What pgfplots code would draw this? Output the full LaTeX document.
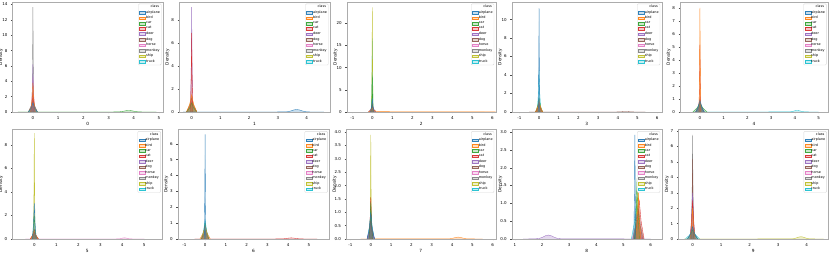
\documentclass[border=0pt]{standalone}
\usepackage{fontspec}
\setmainfont{DejaVu Sans}
\usepackage{pgfplots}
\pgfplotsset{compat=1.18}
\definecolor{C0}{HTML}{1F77B4}
\definecolor{C1}{HTML}{FF7F0E}
\definecolor{C2}{HTML}{2CA02C}
\definecolor{C3}{HTML}{D62728}
\definecolor{C4}{HTML}{9467BD}
\definecolor{C5}{HTML}{8C564B}
\definecolor{C6}{HTML}{E377C2}
\definecolor{C7}{HTML}{7F7F7F}
\definecolor{C8}{HTML}{BCBD22}
\definecolor{C9}{HTML}{17BECF}
\pgfplotsset{
  c0/.style={draw=C0, fill=C0, fill opacity=0.25, draw opacity=0.9, line width=0.35pt},
  c1/.style={draw=C1, fill=C1, fill opacity=0.25, draw opacity=0.9, line width=0.35pt},
  c2/.style={draw=C2, fill=C2, fill opacity=0.25, draw opacity=0.9, line width=0.35pt},
  c3/.style={draw=C3, fill=C3, fill opacity=0.25, draw opacity=0.9, line width=0.35pt},
  c4/.style={draw=C4, fill=C4, fill opacity=0.25, draw opacity=0.9, line width=0.35pt},
  c5/.style={draw=C5, fill=C5, fill opacity=0.25, draw opacity=0.9, line width=0.35pt},
  c6/.style={draw=C6, fill=C6, fill opacity=0.25, draw opacity=0.9, line width=0.35pt},
  c7/.style={draw=C7, fill=C7, fill opacity=0.25, draw opacity=0.9, line width=0.35pt},
  c8/.style={draw=C8, fill=C8, fill opacity=0.25, draw opacity=0.9, line width=0.35pt},
  c9/.style={draw=C9, fill=C9, fill opacity=0.25, draw opacity=0.9, line width=0.35pt},
  k0/.style={c0, forget plot}, k1/.style={c1, forget plot}, k2/.style={c2, forget plot},
  k3/.style={c3, forget plot}, k4/.style={c4, forget plot}, k5/.style={c5, forget plot},
  k6/.style={c6, forget plot}, k7/.style={c7, forget plot}, k8/.style={c8, forget plot},
  k9/.style={c9, forget plot},
  kde/.style={
    scale only axis, anchor=south west, ymin=0,
    tick pos=left, tick align=outside, major tick length=1.5pt,
    axis line style={gray!65, line width=0.4pt},
    tick style={black!70, line width=0.3pt},
    ticklabel style={font=\fontsize{4}{4}\selectfont},
    label style={font=\fontsize{4.3}{4.3}\selectfont},
    ylabel={Density},
    ylabel style={at={(axis description cs:-0.076,0.5)}, anchor=center},
    xlabel style={at={(axis description cs:0.5,-0.065)}, anchor=north},
    scaled ticks=false,
    /pgf/number format/assume math mode=true,
    legend style={at={(0.99,0.985)}, anchor=north east,
      font=\fontsize{3.4}{3.7}\selectfont, draw=gray!30, fill=white,
      rounded corners=1pt, inner sep=1pt, row sep=0.85pt,
      nodes={inner sep=0.3pt}, cells={anchor=west}},
    legend image code/.code={\draw[##1, sharp corners] (0pt,-1.3pt) rectangle (6pt,1.3pt);},
  },
}
\newcommand{\classlegend}{%
  \addlegendimage{empty legend}\addlegendentry{\hspace*{4.5pt}class}%
  \addlegendimage{c0}\addlegendentry{airplane}%
  \addlegendimage{c1}\addlegendentry{bird}%
  \addlegendimage{c2}\addlegendentry{car}%
  \addlegendimage{c3}\addlegendentry{cat}%
  \addlegendimage{c4}\addlegendentry{deer}%
  \addlegendimage{c5}\addlegendentry{dog}%
  \addlegendimage{c6}\addlegendentry{horse}%
  \addlegendimage{c7}\addlegendentry{monkey}%
  \addlegendimage{c8}\addlegendentry{ship}%
  \addlegendimage{c9}\addlegendentry{truck}%
}
\begin{document}
\begin{tikzpicture}
\path[use as bounding box, fill=white] (0pt,0pt) rectangle (830pt,253pt);
% ---------- panel 0
\begin{axis}[kde, at={(12.5pt,141pt)}, width=150.5pt, height=110pt,
  xmin=-0.81, xmax=5.16, ymax=14.33, xtick={0,...,5}, ytick={0,2,...,14}, xlabel={0}]
\addplot[k9] coordinates {(-0.18,0)(-0.07,0.36)(0,0.8)(0.07,0.36)(0.18,0)};
\addplot[k8] coordinates {(-0.18,0)(-0.07,0.63)(0,1.4)(0.07,0.63)(0.18,0)};
\addplot[k7] coordinates {(-0.04,0)(-0.015,6.14)(0,13.65)(0.015,6.14)(0.04,0)};
\addplot[k6] coordinates {(-0.09,0)(-0.035,2.03)(0,4.5)(0.035,2.03)(0.09,0)};
\addplot[k5] coordinates {(-0.18,0)(-0.07,0.81)(0,1.8)(0.07,0.81)(0.18,0)};
\addplot[k4] coordinates {(-0.04,0)(-0.015,2.79)(0,6.2)(0.015,2.79)(0.04,0)};
\addplot[k3] coordinates {(-0.09,0)(-0.035,1.13)(0,2.5)(0.035,1.13)(0.09,0)};
\addplot[k2] coordinates {(-0.6,0)(0.2,0.004)(1,0.004)(2,0.004)(3,0.005)(3.26,0.01)(3.44,0.027)(3.566,0.086)(3.692,0.167)(3.8,0.2)(3.908,0.167)(4.034,0.086)(4.16,0.027)(4.34,0.005)(4.9,0)};
\addplot[k1] coordinates {(-0.09,0)(-0.035,1.71)(0,3.8)(0.035,1.71)(0.09,0)};
\addplot[k0] coordinates {(-0.18,0)(-0.07,0.54)(0,1.2)(0.07,0.54)(0.18,0)};
\classlegend
\end{axis}
% ---------- panel 1
\begin{axis}[kde, at={(179pt,141pt)}, width=151pt, height=110pt,
  xmin=-0.44, xmax=4.81, ymax=9.6, xtick={0,...,4}, ytick={0,2,...,8}, xlabel={1}]
\addplot[k9] coordinates {(-0.18,0)(-0.07,0.315)(0,0.7)(0.07,0.315)(0.18,0)};
\addplot[k8] coordinates {(-0.18,0)(-0.07,0.585)(0,1.3)(0.07,0.585)(0.18,0)};
\addplot[k7] coordinates {(-0.18,0)(-0.07,0.405)(0,0.9)(0.07,0.405)(0.18,0)};
\addplot[k6] coordinates {(-0.18,0)(-0.07,0.45)(0,1.0)(0.07,0.45)(0.18,0)};
\addplot[k5] coordinates {(-0.18,0)(-0.07,0.54)(0,1.2)(0.07,0.54)(0.18,0)};
\addplot[k4] coordinates {(-0.04,0)(-0.015,4.12)(0,9.15)(0.015,4.12)(0.04,0)};
\addplot[k3] coordinates {(-0.04,0)(-0.015,3.1)(0,6.9)(0.015,3.1)(0.04,0)};
\addplot[k2] coordinates {(-0.18,0)(-0.07,0.36)(0,0.8)(0.07,0.36)(0.18,0)};
\addplot[k1] coordinates {(-0.18,0)(-0.07,0.675)(0,1.5)(0.07,0.675)(0.18,0)};
\addplot[k0] coordinates {(-0.3,0)(0.3,0.004)(2,0.004)(3.0,0.006)(3.2,0.01)(3.35,0.030)(3.455,0.095)(3.56,0.184)(3.65,0.22)(3.74,0.184)(3.845,0.095)(3.95,0.030)(4.1,0.006)(4.6,0)};
\classlegend
\end{axis}
% ---------- panel 2
\begin{axis}[kde, at={(346.7pt,141pt)}, width=149pt, height=110pt,
  xmin=-1.28, xmax=6.17, ymax=24.8, xtick={-1,...,6}, ytick={0,5,...,20}, xlabel={2}]
\addplot[k9] coordinates {(-0.04,0)(-0.015,7.47)(0,16.6)(0.015,7.47)(0.04,0)};
\addplot[k8] coordinates {(-0.04,0)(-0.015,10.62)(0,23.6)(0.015,10.62)(0.04,0)};
\addplot[k7] coordinates {(-0.18,0)(-0.07,0.45)(0,1.0)(0.07,0.45)(0.18,0)};
\addplot[k6] coordinates {(-0.18,0)(-0.07,0.45)(0,1.0)(0.07,0.45)(0.18,0)};
\addplot[k5] coordinates {(-0.18,0)(-0.07,0.54)(0,1.2)(0.07,0.54)(0.18,0)};
\addplot[k4] coordinates {(-0.18,0)(-0.07,0.675)(0,1.5)(0.07,0.675)(0.18,0)};
\addplot[k3] coordinates {(-0.09,0)(-0.035,0.9)(0,2.0)(0.035,0.9)(0.09,0)};
\addplot[k2] coordinates {(-0.04,0)(-0.015,3.6)(0,8.0)(0.015,3.6)(0.04,0)};
\addplot[k1] coordinates {(-0.2,0)(-0.08,0.4)(0,0.9)(0.08,0.4)(0.25,0.08)(1,0.07)(2,0.06)(3,0.07)(4,0.06)(5,0.07)(5.8,0.05)(6.17,0.02)};
\addplot[k0] coordinates {(-0.09,0)(-0.035,1.35)(0,3.0)(0.035,1.35)(0.09,0)};
\classlegend
\end{axis}
% ---------- panel 3
\begin{axis}[kde, at={(511.7pt,141pt)}, width=150pt, height=110pt,
  xmin=-1.39, xmax=6.23, ymax=11.9, xtick={-1,...,6}, ytick={0,2,...,10}, xlabel={3}]
\addplot[k9] coordinates {(-0.09,0)(-0.035,2.03)(0,4.5)(0.035,2.03)(0.09,0)};
\addplot[k8] coordinates {(-0.18,0)(-0.07,0.27)(0,0.6)(0.07,0.27)(0.18,0)};
\addplot[k7] coordinates {(-0.18,0)(-0.07,0.315)(0,0.7)(0.07,0.315)(0.18,0)};
\addplot[k6] coordinates {(-0.18,0)(-0.07,0.36)(0,0.8)(0.07,0.36)(0.18,0)};
\addplot[k5] coordinates {(-0.5,0)(0.3,0.003)(2,0.003)(3.6,0.004)(3.89,0.006)(4.06,0.01)(4.179,0.026)(4.298,0.05)(4.4,0.06)(4.502,0.05)(4.621,0.026)(4.74,0.01)(4.91,0.004)(5.4,0)};
\addplot[k4] coordinates {(-0.18,0)(-0.07,0.405)(0,0.9)(0.07,0.405)(0.18,0)};
\addplot[k3] coordinates {(-0.18,0)(-0.07,0.45)(0,1.0)(0.07,0.45)(0.18,0)};
\addplot[k2] coordinates {(-0.18,0)(-0.07,0.675)(0,1.5)(0.07,0.675)(0.18,0)};
\addplot[k1] coordinates {(-0.18,0)(-0.07,0.54)(0,1.2)(0.07,0.54)(0.18,0)};
\addplot[k0] coordinates {(-0.04,0)(-0.015,5.06)(0,11.25)(0.015,5.06)(0.04,0)};
\classlegend
\end{axis}
% ---------- panel 4
\begin{axis}[kde, at={(680pt,141pt)}, width=148pt, height=110pt,
  xmin=-0.84, xmax=5.4, ymax=8.5, xtick={0,...,5}, ytick={0,...,8}, xlabel={4}]
\addplot[k9] coordinates {(-0.3,0)(0.3,0.004)(2,0.004)(3.4,0.006)(3.68,0.01)(3.82,0.018)(3.918,0.052)(4.016,0.1)(4.1,0.12)(4.184,0.1)(4.282,0.052)(4.38,0.018)(4.52,0.006)(5.0,0)};
\addplot[k8] coordinates {(-0.18,0)(-0.07,0.225)(0,0.5)(0.07,0.225)(0.18,0)};
\addplot[k7] coordinates {(-0.18,0)(-0.07,0.27)(0,0.6)(0.07,0.27)(0.18,0)};
\addplot[k6] coordinates {(-0.18,0)(-0.07,0.27)(0,0.6)(0.07,0.27)(0.18,0)};
\addplot[k5] coordinates {(-0.18,0)(-0.07,0.36)(0,0.8)(0.07,0.36)(0.18,0)};
\addplot[k4] coordinates {(-0.18,0)(-0.07,0.45)(0,1.0)(0.07,0.45)(0.18,0)};
\addplot[k3] coordinates {(-0.04,0)(-0.015,2.34)(0,5.2)(0.015,2.34)(0.04,0)};
\addplot[k2] coordinates {(-0.3,0)(-0.12,0.315)(0,0.7)(0.12,0.315)(0.3,0)};
\addplot[k1] coordinates {(-0.04,0)(-0.015,3.62)(0,8.05)(0.015,3.62)(0.04,0)};
\addplot[k0] coordinates {(-0.18,0)(-0.07,0.405)(0,0.9)(0.07,0.405)(0.18,0)};
\classlegend
\end{axis}
% ---------- panel 5
\begin{axis}[kde, at={(12.3pt,14pt)}, width=150pt, height=109.5pt,
  xmin=-1.0, xmax=5.82, ymax=9.3, xtick={0,...,5}, ytick={0,2,...,8}, xlabel={5}]
\addplot[k9] coordinates {(-0.18,0)(-0.07,0.27)(0,0.6)(0.07,0.27)(0.18,0)};
\addplot[k8] coordinates {(-0.04,0)(-0.015,4.05)(0,9.0)(0.015,4.05)(0.04,0)};
\addplot[k7] coordinates {(-0.18,0)(-0.07,0.225)(0,0.5)(0.07,0.225)(0.18,0)};
\addplot[k6] coordinates {(-0.4,0)(0.3,0.003)(2,0.003)(3.5,0.004)(3.74,0.006)(3.86,0.0135)(3.944,0.043)(4.028,0.0835)(4.1,0.1)(4.172,0.0835)(4.256,0.043)(4.34,0.0135)(4.46,0.005)(5,0)};
\addplot[k5] coordinates {(-0.18,0)(-0.07,0.27)(0,0.6)(0.07,0.27)(0.18,0)};
\addplot[k4] coordinates {(-0.18,0)(-0.07,0.225)(0,0.5)(0.07,0.225)(0.18,0)};
\addplot[k3] coordinates {(-0.18,0)(-0.07,0.36)(0,0.8)(0.07,0.36)(0.18,0)};
\addplot[k2] coordinates {(-0.09,0)(-0.035,0.9)(0,2.0)(0.035,0.9)(0.09,0)};
\addplot[k1] coordinates {(-0.18,0)(-0.07,0.315)(0,0.7)(0.07,0.315)(0.18,0)};
\addplot[k0] coordinates {(-0.09,0)(-0.035,1.37)(0,3.05)(0.035,1.37)(0.09,0)};
\classlegend
\end{axis}
% ---------- panel 6
\begin{axis}[kde, at={(177.7pt,14pt)}, width=151.6pt, height=109.5pt,
  xmin=-1.32, xmax=5.98, ymax=6.9, xtick={-1,...,5}, ytick={0,...,6}, xlabel={6}]
\addplot[k9] coordinates {(-0.18,0)(-0.07,0.54)(0,1.2)(0.07,0.54)(0.18,0)};
\addplot[k8] coordinates {(-0.18,0)(-0.07,0.18)(0,0.4)(0.07,0.18)(0.18,0)};
\addplot[k7] coordinates {(-0.18,0)(-0.07,0.225)(0,0.5)(0.07,0.225)(0.18,0)};
\addplot[k6] coordinates {(-0.18,0)(-0.07,0.225)(0,0.5)(0.07,0.225)(0.18,0)};
\addplot[k5] coordinates {(-0.18,0)(-0.07,0.27)(0,0.6)(0.07,0.27)(0.18,0)};
\addplot[k4] coordinates {(-0.18,0)(-0.07,0.225)(0,0.5)(0.07,0.225)(0.18,0)};
\addplot[k3] coordinates {(-0.5,0)(0.3,0.003)(2,0.003)(3.3,0.004)(3.55,0.005)(3.75,0.0095)(3.89,0.030)(4.03,0.058)(4.15,0.07)(4.27,0.058)(4.41,0.030)(4.55,0.0095)(4.75,0.004)(5.4,0)};
\addplot[k2] coordinates {(-0.18,0)(-0.07,0.45)(0,1.0)(0.07,0.45)(0.18,0)};
\addplot[k1] coordinates {(-0.25,0)(-0.1,0.36)(0,0.8)(0.1,0.36)(0.25,0)};
\addplot[k0] coordinates {(-0.04,0)(-0.015,2.97)(0,6.6)(0.015,2.97)(0.04,0)};
\classlegend
\end{axis}
% ---------- panel 7
\begin{axis}[kde, at={(346pt,14pt)}, width=149.7pt, height=109.5pt,
  xmin=-1.22, xmax=6.15, ymax=4.1, xtick={-1,...,6}, ytick={0,0.5,...,4}, xlabel={7},
  yticklabel style={/pgf/number format/.cd, fixed, fixed zerofill, precision=1}]
\addplot[k9] coordinates {(-0.18,0)(-0.07,0.405)(0,0.9)(0.07,0.405)(0.18,0)};
\addplot[k8] coordinates {(-0.04,0)(-0.015,1.755)(0,3.9)(0.015,1.755)(0.04,0)};
\addplot[k7] coordinates {(-0.18,0)(-0.07,0.27)(0,0.6)(0.07,0.27)(0.18,0)};
\addplot[k6] coordinates {(-0.18,0)(-0.07,0.225)(0,0.5)(0.07,0.225)(0.18,0)};
\addplot[k5] coordinates {(-0.18,0)(-0.07,0.315)(0,0.7)(0.07,0.315)(0.18,0)};
\addplot[k4] coordinates {(-0.18,0)(-0.07,0.27)(0,0.6)(0.07,0.27)(0.18,0)};
\addplot[k3] coordinates {(-0.09,0)(-0.035,0.70)(0,1.56)(0.035,0.70)(0.09,0)};
\addplot[k2] coordinates {(-0.09,0)(-0.035,0.62)(0,1.37)(0.035,0.62)(0.09,0)};
\addplot[k1] coordinates {(-0.5,0)(0.3,0.003)(2,0.003)(3.4,0.004)(3.7,0.005)(3.9,0.0095)(4.04,0.030)(4.18,0.058)(4.3,0.07)(4.42,0.058)(4.56,0.030)(4.7,0.0095)(4.9,0.004)(5.5,0)};
\addplot[k0] coordinates {(-0.18,0)(-0.07,0.45)(0,1.0)(0.07,0.45)(0.18,0)};
\classlegend
\end{axis}
% ---------- panel 8
\begin{axis}[kde, at={(511.7pt,14pt)}, width=150pt, height=109.5pt,
  xmin=0.88, xmax=6.41, ymax=3.07, xtick={1,...,6}, ytick={0,0.5,...,3}, xlabel={8},
  yticklabel style={/pgf/number format/.cd, fixed, fixed zerofill, precision=1}]
\addplot[k9] coordinates {(5.29,0)(5.40,0.45)(5.47,1.0)(5.54,0.45)(5.65,0)};
\addplot[k8] coordinates {(5.43,0)(5.485,0.855)(5.52,1.9)(5.555,0.855)(5.61,0)};
\addplot[k7] coordinates {(5.38,0)(5.49,0.36)(5.56,0.8)(5.63,0.36)(5.74,0)};
\addplot[k6] coordinates {(5.32,0)(5.43,0.315)(5.5,0.7)(5.57,0.315)(5.68,0)};
\addplot[k5] coordinates {(5.35,0)(5.46,0.405)(5.53,0.9)(5.60,0.405)(5.71,0)};
\addplot[k4] coordinates {(1.3,0)(1.72,0.004)(1.89,0.015)(2.009,0.047)(2.128,0.092)(2.23,0.11)(2.332,0.092)(2.451,0.047)(2.57,0.015)(2.74,0.004)(3.2,0.002)(5,0.002)(6,0)};
\addplot[k3] coordinates {(5.40,0)(5.51,0.495)(5.58,1.1)(5.65,0.495)(5.76,0)};
\addplot[k2] coordinates {(5.41,0)(5.465,0.765)(5.5,1.7)(5.535,0.765)(5.59,0)};
\addplot[k1] coordinates {(5.46,0)(5.515,0.585)(5.55,1.3)(5.585,0.585)(5.64,0)};
\addplot[k0] coordinates {(5.38,0)(5.405,1.31)(5.42,2.92)(5.435,1.31)(5.46,0)};
\classlegend
\end{axis}
% ---------- panel 9
\begin{axis}[kde, at={(678.3pt,14pt)}, width=150pt, height=109.5pt,
  xmin=-0.5, xmax=4.76, ymax=7.1, xtick={0,...,4}, ytick={0,...,7}, xlabel={9}]
\addplot[k9] coordinates {(-0.25,0)(-0.1,0.27)(0,0.6)(0.1,0.27)(0.25,0)};
\addplot[k8] coordinates {(-0.3,0)(0.3,0.004)(2,0.004)(3.1,0.006)(3.41,0.01)(3.54,0.020)(3.631,0.0645)(3.722,0.125)(3.8,0.15)(3.878,0.125)(3.969,0.0645)(4.06,0.020)(4.19,0.006)(4.6,0)};
\addplot[k7] coordinates {(-0.04,0)(-0.015,3.04)(0,6.75)(0.015,3.04)(0.04,0)};
\addplot[k6] coordinates {(-0.18,0)(-0.07,0.315)(0,0.7)(0.07,0.315)(0.18,0)};
\addplot[k5] coordinates {(-0.04,0)(-0.015,2.34)(0,5.2)(0.015,2.34)(0.04,0)};
\addplot[k4] coordinates {(-0.09,0)(-0.035,1.35)(0,3.0)(0.035,1.35)(0.09,0)};
\addplot[k3] coordinates {(-0.09,0)(-0.035,1.125)(0,2.5)(0.035,1.125)(0.09,0)};
\addplot[k2] coordinates {(-0.18,0)(-0.07,0.27)(0,0.6)(0.07,0.27)(0.18,0)};
\addplot[k1] coordinates {(-0.09,0)(-0.035,0.9)(0,2.0)(0.035,0.9)(0.09,0)};
\addplot[k0] coordinates {(-0.18,0)(-0.07,0.36)(0,0.8)(0.07,0.36)(0.18,0)};
\classlegend
\end{axis}
\end{tikzpicture}
\end{document}
